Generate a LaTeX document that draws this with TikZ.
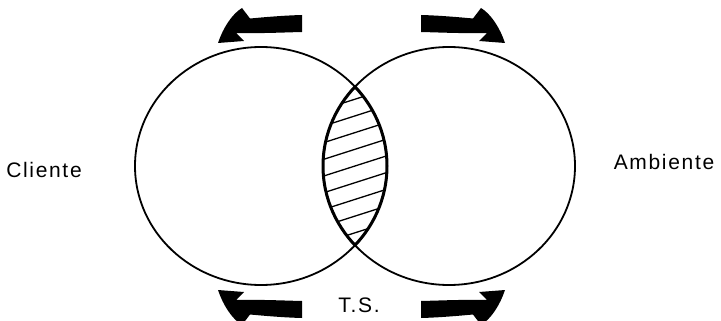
\documentclass[tikz,border=0pt]{standalone}
\usepackage{fontspec}
\setmainfont{Liberation Sans}[LetterSpace=8]

\begin{document}
\begin{tikzpicture}[x=1pt, y=-1pt, every node/.style={font=\fontsize{21}{25}\selectfont}]
  \useasboundingbox (0,0) rectangle (721,321);
  % hatching in the overlap
  \begin{scope}
    \clip (261,166) ellipse [x radius=126, y radius=119];
    \clip (449,166) ellipse [x radius=126, y radius=119];
    \foreach \k in {-4,...,4}
      \draw [line width=1.3pt] (300,{166+16.7*\k+17.6}) -- (410,{166+16.7*\k-17.6});
  \end{scope}

  \draw [line width=1.8pt] (261,166) ellipse [x radius=126, y radius=119];
  \draw [line width=1.8pt] (449,166) ellipse [x radius=126, y radius=119];
  \begin{scope}
    \clip (261,166) ellipse [x radius=126, y radius=119];
    \draw [line width=3pt] (449,166) ellipse [x radius=126, y radius=119];
  \end{scope}
  \begin{scope}
    \clip (449,166) ellipse [x radius=126, y radius=119];
    \draw [line width=3pt] (261,166) ellipse [x radius=126, y radius=119];
  \end{scope}

  % curved arrows
  \foreach \sx/\sy in {1/1,-1/1,1/-1,-1/-1}
    \fill [shift={(361.5,166.5)}, xscale=\sx, yscale=\sy]
      (-59.5,-151.5) .. controls (-78,-151) and (-95,-149.5) .. (-111.5,-148)
      -- (-119.5,-158.5) .. controls (-129.5,-152.5) and (-138.5,-138.5) .. (-143.5,-123.5)
      -- (-117.5,-125.5) -- (-125.5,-133.5)
      .. controls (-100,-133) and (-80,-134) .. (-59.5,-134.5) -- cycle;

  \node (cliente) at (44,170) {Cliente};
  \node (ambiente) at (664,162) {Ambiente};
  \node (ts) at (359,305) {T.S.};
\end{tikzpicture}
\end{document}
